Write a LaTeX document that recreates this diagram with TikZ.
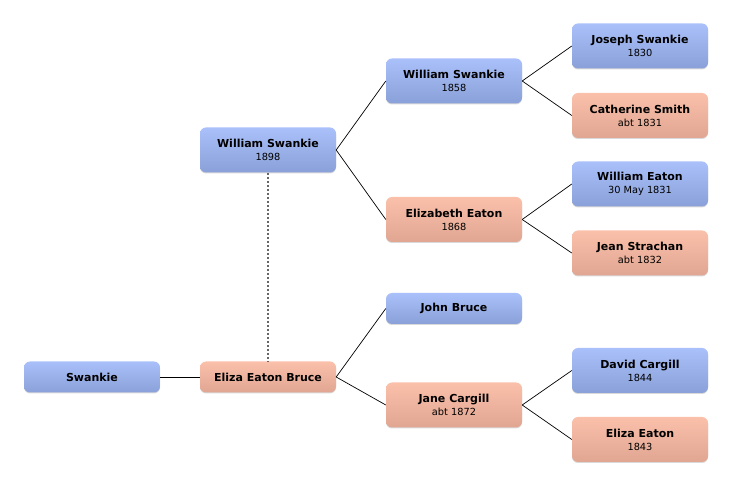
\documentclass[tikz,border=0pt]{standalone}
\usepackage{fontspec}
\setmainfont{DejaVu Sans}
\usetikzlibrary{shadows}
\definecolor{maletop}{RGB}{170,192,250}
\definecolor{malebot}{RGB}{138,160,216}
\definecolor{femtop}{RGB}{250,192,170}
\definecolor{fembot}{RGB}{224,166,146}
\tikzset{
  person/.style={rounded corners=6pt, minimum width=136pt, minimum height=45pt,
    inner sep=0pt, align=center, font=\fontsize{11}{13}\selectfont,
    drop shadow={opacity=0.3, shadow xshift=0pt, shadow yshift=-1pt}},
  single/.style={minimum height=31pt},
  male/.style={person, top color=maletop, bottom color=malebot},
  female/.style={person, top color=femtop, bottom color=fembot},
  link/.style={line width=0.7pt},
}
\newcommand{\who}[2]{\textbf{#1}\\{\fontsize{9.8}{11}\selectfont #2}}
\begin{document}
\begin{tikzpicture}[x=1pt,y=-1pt]
    \useasboundingbox (0,0) rectangle (732,486);
    % root and spouse
    \node[male,single] (sw) at (92,377) {\textbf{Swankie}};
    \node[female,single] (eeb) at (268,377) {\textbf{Eliza Eaton Bruce}};
    \node[male] (ws1898) at (268,150) {\who{William Swankie}{1898}};
    % parents
    \node[male] (ws1858) at (454,81) {\who{William Swankie}{1858}};
    \node[female] (ee1868) at (454,219.5) {\who{Elizabeth Eaton}{1868}};
    \node[male,single] (jb) at (454,308.5) {\textbf{John Bruce}};
    \node[female] (jc) at (454,405) {\who{Jane Cargill}{abt 1872}};
    % grandparents
    \node[male] (jos) at (640,46) {\who{Joseph Swankie}{1830}};
    \node[female] (cs) at (640,115.5) {\who{Catherine Smith}{abt 1831}};
    \node[male] (we) at (640,184) {\who{William Eaton}{30 May 1831}};
    \node[female] (jst) at (640,253) {\who{Jean Strachan}{abt 1832}};
    \node[male] (dc) at (640,370.5) {\who{David Cargill}{1844}};
    \node[female] (ee) at (640,439.5) {\who{Eliza Eaton}{1843}};
    % links
    \draw[link] (sw.east) -- (eeb.west);
    \draw[black!60,line width=1.3pt,dash pattern=on 2pt off 2pt] (ws1898.south) -- (eeb.north);
    \foreach \a/\b in {ws1898/ws1858, ws1898/ee1868, eeb/jb, eeb/jc,
                       ws1858/jos, ws1858/cs, ee1868/we, ee1868/jst, jc/dc, jc/ee} {
        \draw[link] (\a.east) -- (\b.west);
    }
\end{tikzpicture}
\end{document}
